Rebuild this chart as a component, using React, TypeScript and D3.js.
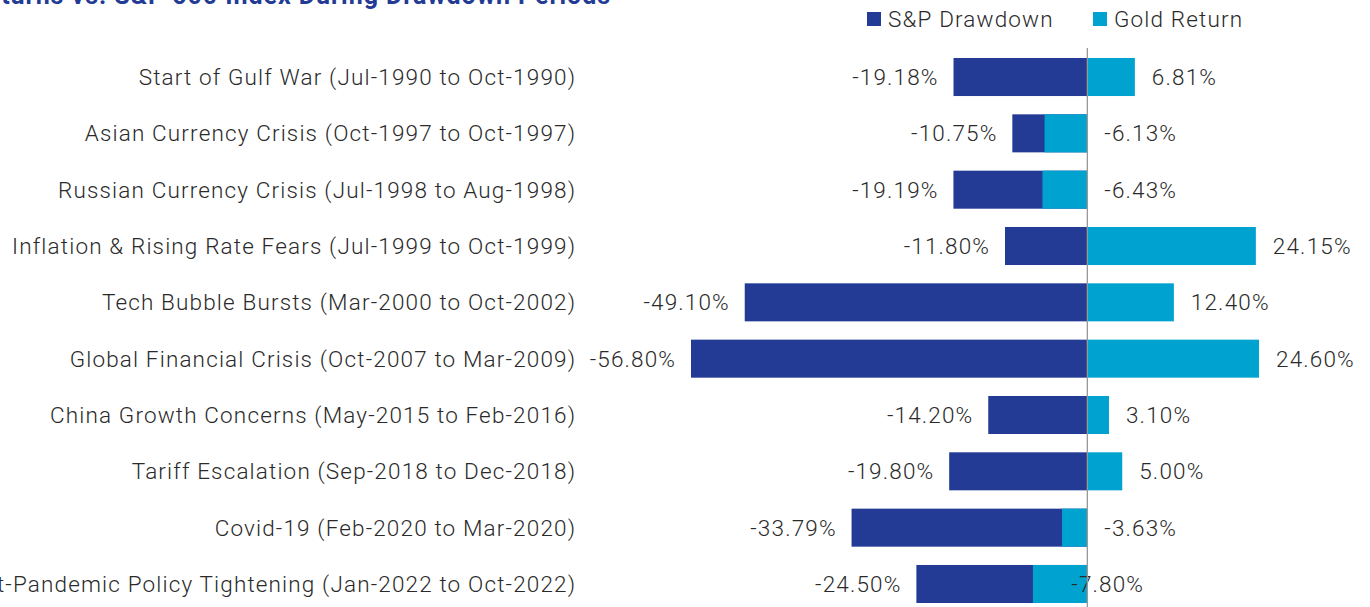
import * as d3 from "d3";

// drawdown periods, top to bottom
const periods = [
  "Start of Gulf War (Jul-1990 to Oct-1990)",
  "Asian Currency Crisis (Oct-1997 to Oct-1997)",
  "Russian Currency Crisis (Jul-1998 to Aug-1998)",
  "Inflation & Rising Rate Fears (Jul-1999 to Oct-1999)",
  "Tech Bubble Bursts (Mar-2000 to Oct-2002)",
  "Global Financial Crisis (Oct-2007 to Mar-2009)",
  "China Growth Concerns (May-2015 to Feb-2016)",
  "Tariff Escalation (Sep-2018 to Dec-2018)",
  "Covid-19 (Feb-2020 to Mar-2020)",
  "Post-Pandemic Policy Tightening (Jan-2022 to Oct-2022)",
];
const spDrawdown = [-19.18, -10.75, -19.19, -11.8, -49.1, -56.8, -14.2, -19.8, -33.79, -24.5];
const goldReturn = [6.81, -6.13, -6.43, 24.15, 12.4, 24.6, 3.1, 5.0, -3.63, -7.8];
const seriesNames = ["S&P Drawdown", "Gold Return"];

const width = 1370;
const height = 607;
const DARK = "#243b96";
const LIGHT = "#00a3cf";
const TEXT = "#2a2a2a";
const FONT = "Roboto, 'Liberation Sans', sans-serif";
const FS = 22.5;
const LS = 1.15;

export default function App() {
  const x = d3.scaleLinear().domain([-56.8, 24.6]).range([691, 1259]);
  const step = 56.33;
  const y = d3
    .scaleBand<string>()
    .domain(periods)
    .range([48.85, 48.85 + periods.length * step])
    .paddingInner(0.325)
    .paddingOuter(0.1625);
  const bh = y.bandwidth();
  const fmt = (v: number) => v.toFixed(2) + "%";
  const x0 = x(0);

  const label = {
    fontSize: FS,
    fontWeight: 300,
    fill: TEXT,
    letterSpacing: LS,
  };

  return (
    <svg
      width={width}
      height={height}
      style={{ position: "absolute", left: 0, top: 0, background: "#fff" }}
      fontFamily={FONT}
    >
      {/* title, cut off at the top */}
      <text x={611} y={4} textAnchor="end" fontSize={25} fontWeight={700} fill={DARK} letterSpacing={0.95}>
        Gold Returns vs. S&amp;P 500 Index During Drawdown Periods
      </text>

      {/* legend */}
      {seriesNames.map((s, i) => {
        const lx = i === 0 ? 867 : 1093;
        return (
          <g key={s}>
            <rect x={lx} y={12} width={14} height={14} fill={i === 0 ? DARK : LIGHT} />
            <text x={lx + 21} y={19} dy="0.35em" {...label}>
              {s}
            </text>
          </g>
        );
      })}

      {periods.map((p, i) => {
        const cy = (y(p) as number) + bh / 2;
        const sp = spDrawdown[i];
        const g = goldReturn[i];
        const goldLabelX = g >= 0 ? x(g) + 17 : i === periods.length - 1 ? x0 - 16 : x0 + 17;
        return (
          <g key={p}>
            <text x={575 + LS} y={cy} dy="0.35em" textAnchor="end" {...label}>
              {p}
            </text>
            <rect x={x(sp)} y={y(p)} width={x0 - x(sp)} height={bh} fill={DARK} />
            <rect
              x={Math.min(x(g), x0)}
              y={y(p)}
              width={Math.abs(x(g) - x0)}
              height={bh}
              fill={LIGHT}
            />
            <text x={x(sp) - 16 + LS} y={cy} dy="0.35em" textAnchor="end" {...label}>
              {fmt(sp)}
            </text>
            <text x={goldLabelX} y={cy} dy="0.35em" {...label}>
              {fmt(g)}
            </text>
          </g>
        );
      })}

      {/* zero line */}
      <line x1={x0} x2={x0} y1={48} y2={height} stroke="#999" strokeWidth={1.3} />
    </svg>
  );
}
